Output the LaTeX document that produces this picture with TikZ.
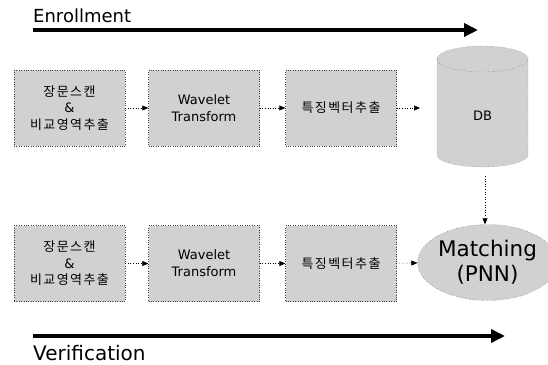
\documentclass[tikz,border=0pt]{standalone}
\usepackage{fontspec}
\setmainfont{DejaVu Sans}
\newfontfamily\kr[LetterSpace=11]{Noto Sans CJK KR}
\usetikzlibrary{arrows.meta,shapes.geometric}
\definecolor{stipple}{gray}{0.82}
\definecolor{edge}{gray}{0.25}
\tikzset{
  procbox/.style={draw=edge, dotted, fill=stipple, minimum width=111pt,
    minimum height=76pt, inner sep=0pt, align=center},
  krtext/.style={font=\kr\fontsize{13}{16.5}\selectfont},
  entext/.style={font=\fontsize{13}{17}\selectfont},
  flow/.style={draw=black, dotted, semithick, -{Triangle[length=6pt,width=5pt]}},
  phase/.style={line width=4pt, -{Triangle[length=14pt,width=13pt]}},
  phaselabel/.style={anchor=base west, inner sep=0pt},
}
\begin{document}
\begin{tikzpicture}[x=1pt,y=-1pt]
\useasboundingbox (0,0) rectangle (548,364);

% enrollment phase
\node[phaselabel, font=\fontsize{18}{20}\selectfont] (enrl) at (33,22) {Enrollment};
\coordinate (enrS) at (33,30);
\coordinate (enrE) at (478,30);
\draw[phase] (enrS) -- (enrE);

\node[procbox, krtext] (e1) at (69.5,108) {장문스캔\\{\rmfamily\&}\\비교영역추출};
\node[procbox, entext] (e2) at (204,108) {Wavelet\\Transform};
\node[procbox, krtext] (e3) at (341,108) {특징벡터추출};

% database cylinder
\fill[stipple] (437,59) -- (437,155) arc[start angle=180, end angle=0, x radius=45.5, y radius=12]
  -- (528,59) arc[start angle=0, end angle=-180, x radius=45.5, y radius=13] -- cycle;
\draw[edge, dotted] (437,59) -- (437,155) arc[start angle=180, end angle=0, x radius=45.5, y radius=12]
  -- (528,59);
\draw[edge, dotted] (482.5,59) ellipse[x radius=45.5, y radius=13];
\node[font=\fontsize{13}{15}\selectfont] (db) at (482.5,116) {DB};
\coordinate (dbin) at (420,108);
\coordinate (dbout) at (485,176);

\draw[flow] (e1) -- (e2);
\draw[flow] (e2) -- (e3);
\draw[flow] (e3) -- (dbin);

% verification phase
\node[procbox, krtext] (v1) at (69.5,263.5) {장문스캔\\{\rmfamily\&}\\비교영역추출};
\node[procbox, entext] (v2) at (204,263.5) {Wavelet\\Transform};
\node[procbox, krtext] (v3) at (341,263.5) {특징벡터추출};
\node[ellipse, draw=edge, dotted, fill=stipple, minimum width=115pt, minimum height=76pt,
  inner sep=0pt, align=center, font=\fontsize{21.5}{25}\selectfont] (match) at (487.5,262.5) {Matching\\(PNN)};

\draw[flow] (v1) -- (v2);
\draw[flow] (v2) -- (v3);
\draw[flow] (v3) -- (match);
\draw[flow] (dbout) -- (dbout |- match.north);

\coordinate (verS) at (33,336);
\coordinate (verE) at (505,336);
\draw[phase] (verS) -- (verE);
\node[phaselabel, font=\fontsize{20}{22}\selectfont] (verl) at (33,360) {Verification};
\end{tikzpicture}
\end{document}
